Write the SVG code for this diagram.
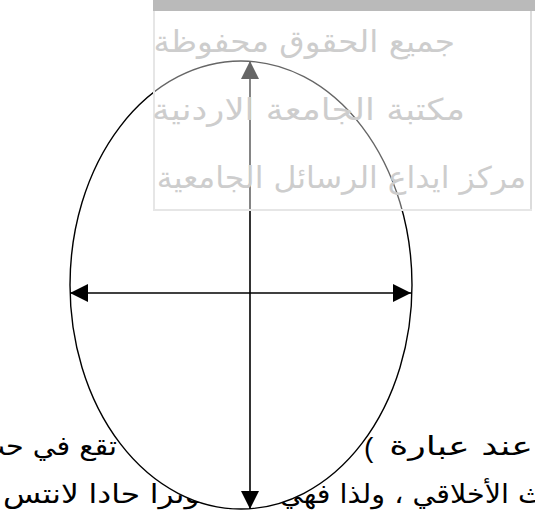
<svg xmlns="http://www.w3.org/2000/svg" width="535" height="516" viewBox="0 0 535 516">
<style>
.bt{font-family:"DejaVu Sans","Noto Sans",sans-serif;font-size:26px;fill:#000}
.st{font-family:"DejaVu Sans","Noto Sans",sans-serif;font-size:30px;fill:#cdcdcd}
.ln{stroke:#000;stroke-width:1.6;fill:none}
</style>
<defs>
<marker id="ah" viewBox="0 0 10 10" refX="10" refY="5" markerWidth="19" markerHeight="18" markerUnits="userSpaceOnUse" orient="auto-start-reverse"><path d="M0,0 L10,5 L0,10 z" fill="#000"/></marker>
</defs>
<rect width="535" height="516" fill="#fff"/>
<g id="paragraph">
<text class="bt" transform="translate(533,455) scale(1.4,1)" text-anchor="end">عند عبارة</text>
<text class="bt" x="364" y="457" style="font-family:'Liberation Sans',sans-serif;font-size:28px;direction:ltr;unicode-bidi:bidi-override">(</text>
<text class="bt" transform="translate(117,455) scale(1.1,1)" text-anchor="end">تقع في حب</text>
<text class="bt" transform="translate(545,503) scale(1.1,1)" text-anchor="end">ث الأخلاقي ، ولذا فهي</text>
<text class="bt" transform="translate(210,503) scale(1.2,1)" text-anchor="end">لوترا حادا لانتس</text>
</g>
<g id="ellipse">
<ellipse cx="241" cy="285" rx="171" ry="224" fill="#fff" stroke="#000" stroke-width="1.4"/>
</g>
<g id="connectors">
<line class="ln" x1="250" y1="285" x2="250" y2="61" marker-end="url(#ah)"/>
<line class="ln" x1="250" y1="285" x2="250" y2="509" marker-end="url(#ah)"/>
<line class="ln" x1="70" y1="293" x2="411" y2="293" marker-start="url(#ah)" marker-end="url(#ah)"/>
</g>
<g id="stamp">
<rect x="153" y="0" width="382" height="211" fill="#fff" fill-opacity="0.4"/>
<rect x="153" y="0" width="382" height="11" fill="#bababa"/>
<line x1="531" y1="11" x2="531" y2="211" stroke="#dcdcdc" stroke-width="2"/>
<line x1="154" y1="11" x2="154" y2="211" stroke="#e6e6e6" stroke-width="2"/>
<line x1="153" y1="210" x2="532" y2="210" stroke="#e6e6e6" stroke-width="2"/>
<text class="st" transform="translate(455,52) scale(1.09,1)" text-anchor="end">جميع الحقوق محفوظة</text>
<text class="st" transform="translate(465,120) scale(1.18,1)" text-anchor="end">مكتبة الجامعة الاردنية</text>
<text class="st" transform="translate(526,188) scale(1.05,1)" text-anchor="end">مركز ايداع الرسائل الجامعية</text>
</g>
</svg>
